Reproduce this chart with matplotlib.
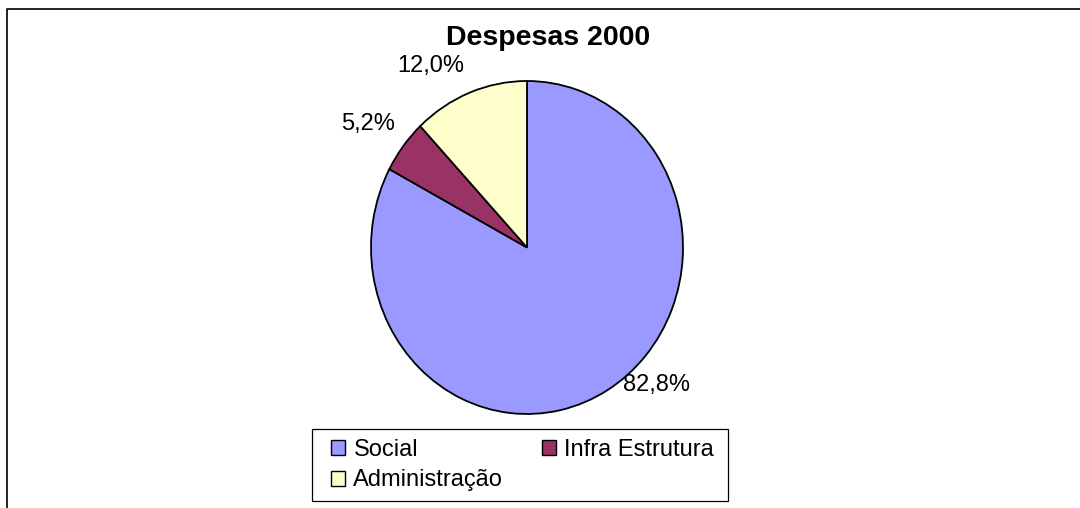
import numpy as np
import matplotlib
matplotlib.use("Agg")
import matplotlib.pyplot as plt
import matplotlib.patches as patches
from matplotlib.lines import Line2D

plt.rcParams['font.family'] = ['Liberation Sans', 'DejaVu Sans']

# --- data ---
categories = ['Social', 'Infra Estrutura', 'Administração']
values = [82.8, 5.2, 12.0]
colors = ['#9999FF', '#993366', '#FFFFCC']
title = 'Despesas 2000'

# label placement (angle in degrees, distance in radii) - Excel "best fit" look
label_angle = [-45, 144, 119.5]
label_dist = [1.17, 1.26, 1.25]

W, H = 1080, 508
fig = plt.figure(figsize=(W / 100, H / 100), dpi=100)
fig.patch.set_facecolor('white')

# pie axes (slightly taller than wide, like the original)
px_left, px_right, px_top, px_bottom = 371, 683, 81, 414
ax = fig.add_axes([px_left / W, (H - px_bottom) / H,
                   (px_right - px_left) / W, (px_bottom - px_top) / H])
wedges, _ = ax.pie(values, colors=colors, startangle=90, counterclock=False,
                   radius=1.0,
                   wedgeprops=dict(edgecolor='black', linewidth=1.3))
for w in wedges:
    w.set_clip_on(False)
ax.set_aspect('auto')
ax.set_xlim(-1, 1)
ax.set_ylim(-1, 1)
ax.axis('off')

for v, a, d in zip(values, label_angle, label_dist):
    t = np.deg2rad(a)
    ax.text(d * np.cos(t), d * np.sin(t), f"{v:.1f}%".replace('.', ','),
            ha='center', va='center', fontsize=17, clip_on=False)

fig.text(548 / W, 1 - 38 / H, title, ha='center', va='center',
         fontsize=20.5, fontweight='bold')

# legend box drawn separately so its size matches the original
fig.add_artist(patches.Rectangle((312 / W, 1 - 501 / H), 416 / W, 72 / H,
                                 transform=fig.transFigure, facecolor='white',
                                 edgecolor='black', linewidth=0.9))

# legend entries (order reshuffled so entries read row by row)
handles = [patches.Patch(facecolor=c, edgecolor='black', linewidth=1.0) for c in colors]
order = [0, 2, 1]
leg = fig.legend([handles[i] for i in order], [categories[i] for i in order],
                 ncol=2, loc='center left', mode='expand',
                 bbox_to_anchor=(331 / W, 1 - 497 / H, 383 / W, 64 / H),
                 bbox_transform=fig.transFigure,
                 fontsize=17, frameon=False,
                 handlelength=0.6, handleheight=0.6, handletextpad=0.35,
                 borderpad=0, labelspacing=0.38, borderaxespad=0,
                 columnspacing=1.0)

# outer chart frame (only top & left edges fall inside the image)
fig.add_artist(Line2D([7 / W, 7 / W, 1.0], [0.0, 1 - 9 / H, 1 - 9 / H],
                      transform=fig.transFigure, color='#111111', lw=1.3))

fig.savefig('out.png', dpi=100)
